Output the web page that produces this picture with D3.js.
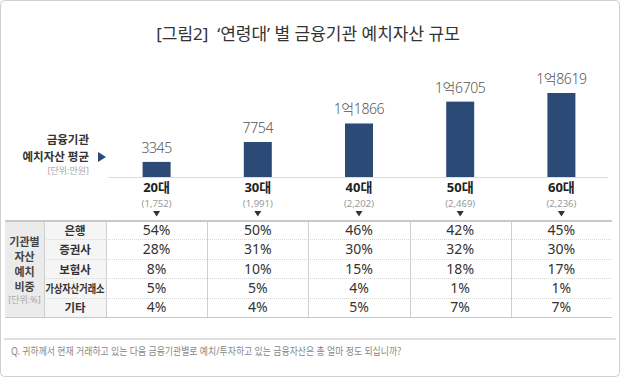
<!DOCTYPE html>
<html>
<head>
<meta charset="utf-8">
<script src="https://cdn.jsdelivr.net/npm/d3@7"></script>
<style>
  body { margin: 0; background: #fff; }
  text { font-family: "Noto Sans", "Noto Sans CJK KR", sans-serif; white-space: pre; }
</style>
</head>
<body>
<script>
// chart data
const ages = ["20대", "30대", "40대", "50대", "60대"];
const counts = ["(1,752)", "(1,991)", "(2,202)", "(2,469)", "(2,236)"];
const avgAssets = [3345, 7754, 11866, 16705, 18619];   // 만원
const institutions = ["은행", "증권사", "보험사", "가상자산거래소", "기타"];
const shareBank = [54, 50, 46, 42, 45];
const shareSecurities = [28, 31, 30, 32, 30];
const shareInsurance = [8, 10, 15, 18, 17];
const shareCrypto = [5, 5, 4, 1, 1];
const shareOther = [4, 4, 5, 7, 7];
const sideLabel = ["기관별", "자산", "예치", "비중"];

const shares = [shareBank, shareSecurities, shareInsurance, shareCrypto, shareOther];

const W = 620, H = 377;
const navy = "#2b4a76";

const svg = d3.select("body").append("svg")
    .attr("width", W)
    .attr("height", H);

// outer frame
svg.append("rect")
    .attr("x", 0.5).attr("y", 0.5)
    .attr("width", W - 1).attr("height", H - 1)
    .attr("rx", 4)
    .attr("fill", "#fff")
    .attr("stroke", "#cfcfcf");

// title
svg.append("text")
    .attr("x", 308).attr("y", 40)
    .attr("text-anchor", "middle")
    .attr("font-size", 17)
    .attr("fill", "#333")
    .text("[그림2]  \u2018연령대\u2019 별 금융기관 예치자산 규모");

// scales
const x = d3.scaleBand().domain(ages).range([106, 612]);
const baseY = 177;
const y = d3.scaleLinear()
    .domain([0, d3.max(avgAssets)])
    .range([baseY, 93]);

const fmtAsset = v => v >= 10000 ? Math.floor(v / 10000) + "억" + (v % 10000) : String(v);

const barW = 28;
const chart = svg.append("g");

chart.selectAll(".bar")
    .data(avgAssets)
    .enter().append("rect")
    .attr("class", "bar")
    .attr("x", (d, i) => x(ages[i]) + x.bandwidth() / 2 - barW / 2)
    .attr("y", d => y(d))
    .attr("width", barW)
    .attr("height", d => baseY - y(d))
    .attr("fill", navy);

chart.selectAll(".val")
    .data(avgAssets)
    .enter().append("text")
    .attr("class", "val")
    .attr("x", (d, i) => x(ages[i]) + x.bandwidth() / 2)
    .attr("y", d => y(d) - 9)
    .attr("text-anchor", "middle")
    .attr("font-size", 14)
    .attr("font-weight", 300)
    .attr("letter-spacing", -0.4)
    .attr("fill", "#555")
    .text(fmtAsset);

// baseline
chart.append("line")
    .attr("x1", 108).attr("x2", 608)
    .attr("y1", baseY + 0.5).attr("y2", baseY + 0.5)
    .attr("stroke", "#dcdcdc");

// age labels
const cx = a => x(a) + x.bandwidth() / 2;
chart.selectAll(".age")
    .data(ages)
    .enter().append("text")
    .attr("x", cx).attr("y", 192)
    .attr("text-anchor", "middle")
    .attr("font-size", 13)
    .attr("font-weight", 700)
    .attr("fill", "#222")
    .text(d => d);

chart.selectAll(".cnt")
    .data(counts)
    .enter().append("text")
    .attr("x", (d, i) => cx(ages[i])).attr("y", 207)
    .attr("text-anchor", "middle")
    .attr("font-size", 9.5)
    .attr("fill", "#999")
    .text(d => d);

chart.selectAll(".tri")
    .data(ages)
    .enter().append("path")
    .attr("d", a => `M${cx(a) - 3.5},${211}L${cx(a) + 3.5},${211}L${cx(a)},${216.5}Z`)
    .attr("fill", "#333");

// left legend of the bar part
svg.append("text")
    .attr("x", 89).attr("y", 144)
    .attr("text-anchor", "end")
    .attr("font-size", 11.5).attr("font-weight", 700).attr("fill", "#333")
    .text("금융기관");
svg.append("text")
    .attr("x", 89).attr("y", 161)
    .attr("text-anchor", "end")
    .attr("font-size", 11.5).attr("font-weight", 700).attr("fill", "#333")
    .text("예치자산 평균");
svg.append("path")
    .attr("d", "M98,152L106,157L98,162Z")
    .attr("fill", navy);
svg.append("text")
    .attr("x", 89).attr("y", 174)
    .attr("text-anchor", "end")
    .attr("font-size", 9).attr("fill", "#aaa")
    .text("[단위:만원]");

// table
const tTop = 220, rowH = 19.4;
const tBottom = tTop + rowH * institutions.length;
const table = svg.append("g");

table.append("rect")
    .attr("x", 5).attr("y", tTop)
    .attr("width", 39).attr("height", tBottom - tTop)
    .attr("fill", "#ebebeb");
table.append("rect")
    .attr("x", 44).attr("y", tTop)
    .attr("width", 62).attr("height", tBottom - tTop)
    .attr("fill", "#f5f5f5");

// row dividers
table.selectAll(".rowline")
    .data(institutions.slice(1))
    .enter().append("line")
    .attr("x1", 44).attr("x2", 612)
    .attr("y1", (d, i) => Math.round(tTop + rowH * (i + 1)) + 0.5)
    .attr("y2", (d, i) => Math.round(tTop + rowH * (i + 1)) + 0.5)
    .attr("stroke", "#d6d6d6")
    .attr("stroke-dasharray", "1,1");

// column dividers
const colEdges = [44, 106].concat(ages.slice(1).map(a => Math.round(x(a))));
table.selectAll(".colline")
    .data(colEdges)
    .enter().append("line")
    .attr("x1", d => d + 0.5).attr("x2", d => d + 0.5)
    .attr("y1", tTop).attr("y2", tBottom)
    .attr("stroke", "#cfcfcf");

table.append("line")
    .attr("x1", 5).attr("x2", 612)
    .attr("y1", tTop + 1).attr("y2", tTop + 1)
    .attr("stroke", "#c8c8c8").attr("stroke-width", 2);
table.append("line")
    .attr("x1", 5).attr("x2", 612)
    .attr("y1", tBottom + 0.5).attr("y2", tBottom + 0.5)
    .attr("stroke", "#c8c8c8");

// institution names
table.selectAll(".inst")
    .data(institutions)
    .enter().append("text")
    .attr("x", 75)
    .attr("y", (d, i) => tTop + rowH * (i + 0.5) + 5)
    .attr("text-anchor", "middle")
    .attr("font-size", 11.5).attr("font-weight", 700).attr("fill", "#333")
    .each(function(d) {
        const t = d3.select(this).text(d);
        if (d.length > 4) t.attr("textLength", 59).attr("lengthAdjust", "spacingAndGlyphs");
    });

// percentages
shares.forEach((row, r) => {
    table.selectAll(".pct" + r)
        .data(row)
        .enter().append("text")
        .attr("x", (d, i) => cx(ages[i]))
        .attr("y", tTop + rowH * (r + 0.5) + 5)
        .attr("text-anchor", "middle")
        .attr("font-size", 14)
        .attr("fill", "#333")
        .text(d => d + "%");
});

// side label
table.selectAll(".side")
    .data(sideLabel)
    .enter().append("text")
    .attr("x", 24.5)
    .attr("y", (d, i) => 246 + i * 15)
    .attr("text-anchor", "middle")
    .attr("font-size", 11).attr("font-weight", 700).attr("fill", "#444")
    .text(d => d);
table.append("text")
    .attr("x", 24.5).attr("y", 303)
    .attr("text-anchor", "middle")
    .attr("font-size", 9).attr("fill", "#aaa")
    .text("[단위:%]");

// footnote
svg.append("line")
    .attr("x1", 4).attr("x2", 616)
    .attr("y1", 339).attr("y2", 339)
    .attr("stroke", "#e0e0e0").attr("stroke-width", 2);
svg.append("text")
    .attr("x", 11).attr("y", 355)
    .attr("font-size", 10).attr("fill", "#888")
    .attr("textLength", 390).attr("lengthAdjust", "spacingAndGlyphs")
    .text("Q. 귀하께서 현재 거래하고 있는 다음 금융기관별로 예치/투자하고 있는 금융자산은 총 얼마 정도 되십니까?");
</script>
</body>
</html>
